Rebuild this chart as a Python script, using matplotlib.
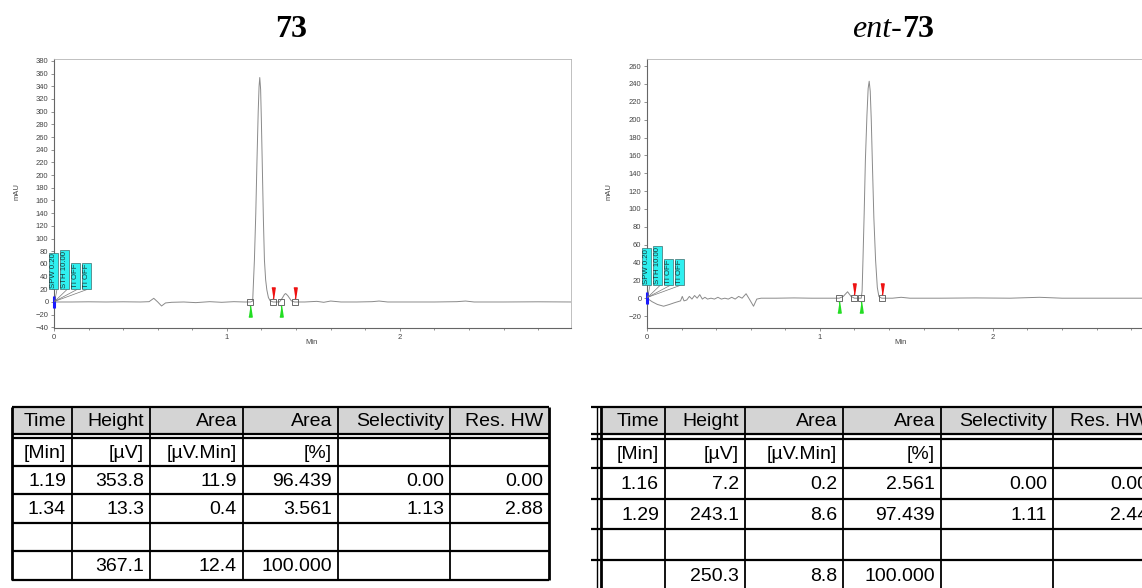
import matplotlib.pyplot as plt
from matplotlib.patches import Rectangle
from matplotlib.ticker import MultipleLocator
from matplotlib.transforms import offset_copy

plt.rcParams['font.family'] = ['Liberation Sans', 'DejaVu Sans']

# chromatogram of 73: retention time [min] and detector signal [mAU]
time_73 = [0.00, 0.10, 0.20, 0.30, 0.40, 0.50, 0.55, 0.577, 0.60, 0.622, 0.645, 0.68,
           0.75, 0.82, 0.90, 0.97, 1.04, 1.10, 1.136, 1.149, 1.159, 1.167, 1.174, 1.181,
           1.186, 1.19, 1.195, 1.199, 1.204, 1.211, 1.217, 1.224, 1.231, 1.24, 1.25, 1.267,
           1.29, 1.304, 1.32, 1.333, 1.34, 1.352, 1.372, 1.391, 1.45, 1.52, 1.56, 1.60,
           1.66, 1.75, 1.84, 1.88, 1.93, 2.05, 2.20, 2.33, 2.38, 2.43, 2.60, 2.80, 3.00]
signal_73 = [0, 0, 0.3, 0, 0.3, 0, 0.5, 5.8, 0, -6.3, -1.5, -0.5,
             0, -1, 0.5, -0.5, 0.5, 0, 0, 1.5, 66, 140, 224, 300,
             340, 353.8, 335, 290, 224, 130, 66, 35, 19, 7, 2, 0,
             0, 0, 6, 12, 13.3, 10, 2, 0, 0, 1, -0.5, 1.5,
             0, 0, 0.5, 1.5, 0, 0, 0, 0.5, 1.5, 0, 0, 0.3, 0]
starts_73 = [1.136, 1.314]
ends_73 = [1.267, 1.391]

# chromatogram of ent-73
time_ent73 = [0.00, 0.03, 0.06, 0.096, 0.13, 0.16, 0.194, 0.204, 0.214, 0.23, 0.245, 0.26,
              0.275, 0.29, 0.305, 0.32, 0.335, 0.35, 0.37, 0.39, 0.41, 0.43, 0.45, 0.47,
              0.49, 0.51, 0.53, 0.55, 0.573, 0.595, 0.616, 0.635, 0.66, 0.75, 0.85, 0.95,
              1.05, 1.112, 1.135, 1.16, 1.18, 1.20, 1.239, 1.244, 1.249, 1.256, 1.263, 1.272,
              1.279, 1.285, 1.291, 1.297, 1.303, 1.312, 1.322, 1.332, 1.341, 1.357, 1.42, 1.47,
              1.52, 1.70, 1.90, 2.10, 2.27, 2.40, 2.60, 2.80, 3.05]
signal_ent73 = [0, -4, -7, -9, -7, -5, -3, 2, -3, -2, 2, -1,
                3, 0, 4, -1, 1, -1, 0, -1, 1, -1, 0, -1,
                1, -1, 2, 0, 5, -2, -9, -1, 0, 0, 0.3, 0,
                0, 0, 2, 7.2, 2, 0, 0, 8, 42.6, 95, 154.6, 205,
                235, 243.1, 232, 200, 154.6, 90, 42.6, 12, 2, 0, 0, 1,
                0, 0, 0.3, 0, 1, 0, 0, 0, 0]
starts_ent73 = [1.112, 1.237]
ends_ent73 = [1.200, 1.357]

events = ["SPW 0.20", "STH 10.00", "TI OFF", "TI OFF"]

# peak tables
headers = ["Time", "Height", "Area", "Area", "Selectivity", "Res. HW"]
units = ["[Min]", "[µV]", "[µV.Min]", "[%]", "", ""]
peaks_73 = [["1.19", "353.8", "11.9", "96.439", "0.00", "0.00"],
            ["1.34", "13.3", "0.4", "3.561", "1.13", "2.88"]]
total_73 = ["", "367.1", "12.4", "100.000", "", ""]
peaks_ent73 = [["1.16", "7.2", "0.2", "2.561", "0.00", "0.00"],
               ["1.29", "243.1", "8.6", "97.439", "1.11", "2.44"]]
total_ent73 = ["", "250.3", "8.8", "100.000", "", ""]

W, H = 1142, 588
fig = plt.figure(figsize=(W / 100, H / 100), dpi=100)


def chromatogram(ax, t, y, starts, ends, ylim):
    ax.plot(t, y, color='#8a8a8a', lw=0.7)
    ax.set_xlim(0, 2.99)
    ax.set_ylim(*ylim)
    ax.xaxis.set_major_locator(MultipleLocator(1))
    ax.xaxis.set_minor_locator(MultipleLocator(0.2))
    ax.yaxis.set_major_locator(MultipleLocator(20))
    ax.tick_params(labelsize=5.5, labelcolor='#444444', color='#666666',
                   length=2.5, width=0.5, pad=1.5)
    ax.tick_params(which='minor', length=1.5, width=0.5, color='#666666')
    for s in ['top', 'right']:
        ax.spines[s].set_color('#b5b5b5')
        ax.spines[s].set_linewidth(0.6)
    for s in ['left', 'bottom']:
        ax.spines[s].set_color('#666666')
        ax.spines[s].set_linewidth(0.8)

    # integration events: boxes on the baseline, start (green) and end (red) flags
    zero = [0] * len(starts + ends)
    ax.plot(starts + ends, zero, 's', mfc='none', mec='#555555', ms=5, mew=0.6)
    below = offset_copy(ax.transData, fig=fig, y=-9, units='dots')
    above = offset_copy(ax.transData, fig=fig, y=9, units='dots')
    up_flag = [(-0.3, -1), (0.3, -1), (0, 1)]
    down_flag = [(-0.3, 1), (0.3, 1), (0, -1)]
    ax.plot(starts, [0] * len(starts), marker=up_flag, ls='none', color='#22dd22',
            ms=8, transform=below, clip_on=False)
    ax.plot(ends, [0] * len(ends), marker=down_flag, ls='none', color='#ee1111',
            ms=8, transform=above, clip_on=False)

    # injection mark
    ax.plot([0], [0], marker='|', ms=9, mew=2.2, color='#1a1aff', clip_on=False, zorder=5)

    # method events as cyan labels
    for i, label in enumerate(events):
        ax.annotate(label, xy=(0.004, 1), xycoords='data',
                    xytext=(-1 + 11 * i, 13), textcoords='offset pixels',
                    rotation=90, ha='center', va='bottom', fontsize=5.6,
                    color='#1a3a3a',
                    bbox=dict(boxstyle='square,pad=0.12', fc='#2ff0f0', ec='#3d6d6d', lw=0.5),
                    arrowprops=dict(arrowstyle='-', color='#777777', lw=0.5,
                                    relpos=(1, 0), shrinkA=0, shrinkB=0),
                    annotation_clip=False, zorder=6)


ax1 = fig.add_axes([54 / W, 1 - 328 / H, 517 / W, 269 / H])
chromatogram(ax1, time_73, signal_73, starts_73, ends_73, (-41, 383))
ax2 = fig.add_axes([647 / W, 1 - 328 / H, 517 / W, 269 / H])
chromatogram(ax2, time_ent73, signal_ent73, starts_ent73, ends_ent73, (-33.4, 268))

for x0 in [17, 609]:
    fig.text(x0 / W, 1 - 192 / H, 'mAU', rotation=90, ha='center', va='center',
             fontsize=5.5, color='#444444')
for x0 in [312, 901]:
    fig.text(x0 / W, 1 - 343 / H, 'Min', ha='center', va='center',
             fontsize=5.5, color='#444444')

# titles
serif = 'Liberation Serif'
fig.text(291 / W, 1 - 37 / H, '73', ha='center', va='baseline', fontsize=23,
         family=serif, weight='bold')
fig.text(902 / W, 1 - 37 / H, 'ent-', ha='right', va='baseline', fontsize=23,
         family=serif, style='italic')
fig.text(902 / W, 1 - 37 / H, '73', ha='left', va='baseline', fontsize=23,
         family=serif, weight='bold')

# tables drawn on an overlay in pixel coordinates
tab = fig.add_axes([0, 0, 1, 1], zorder=-1)
tab.set_xlim(0, W)
tab.set_ylim(H, 0)
tab.axis('off')


def peak_table(cols, rows_y, rows, line_start):
    top, head_bottom = rows_y[0], rows_y[1]
    tab.add_patch(Rectangle((cols[0], top), cols[-1] - cols[0], head_bottom - top,
                            fc='#d4d4d4', ec='none'))
    for yy in rows_y:
        tab.plot([line_start, cols[-1]], [yy, yy], color='black', lw=1.6,
                 solid_capstyle='butt')
    for j, xx in enumerate(cols):
        lw = 2.0 if j in (0, len(cols) - 1) else 1.3
        tab.plot([xx, xx], [top, rows_y[-1]], color='black', lw=lw,
                 solid_capstyle='butt')
    # text rows: header, then units and data below the double line
    cells_y = [(rows_y[0] + rows_y[1]) / 2] + \
              [(rows_y[k] + rows_y[k + 1]) / 2 for k in range(2, len(rows_y) - 1)]
    for row, yc in zip(rows, cells_y):
        for j, txt in enumerate(row):
            tab.text(cols[j + 1] - 6, yc + 1, txt, ha='right', va='center',
                     fontsize=14)


blank = [""] * 6
peak_table([12, 72, 150, 243, 338, 450, 549],
           [407, 434, 438, 466, 494, 523, 551, 580],
           [headers, units] + peaks_73 + [blank, total_73], 12)
peak_table([601, 665, 745, 843, 941, 1053, 1154],
           [407, 434, 439, 468, 499, 529, 560, 591],
           [headers, units] + peaks_ent73 + [blank, total_ent73], 591)
tab.plot([597, 597], [407, 591], color='black', lw=1.0)

fig.savefig('out.png', dpi=100)
